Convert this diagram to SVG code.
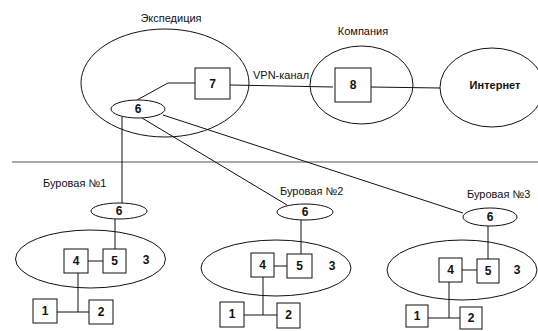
<svg xmlns="http://www.w3.org/2000/svg" width="538" height="331" viewBox="0 0 538 331">
<style>
.s{fill:none;stroke:#111;stroke-width:1}
.b{fill:#fff;stroke:#111;stroke-width:1}
.t{font-family:"Liberation Sans",Arial,sans-serif;font-size:11px;fill:#111}
.n{font-family:"Liberation Sans",Arial,sans-serif;font-size:12px;fill:#111;text-anchor:middle;font-weight:bold}
</style>
<rect width="538" height="331" fill="#fff"/>
<line x1="12" y1="162" x2="538" y2="162" stroke="#555" stroke-width="1"/>
<g id="connectors" class="s">
<polyline points="137,100 168,83 195,83"/>
<polyline points="230,85 333,87"/>
<polyline points="371,87 440,88"/>
<line x1="122" y1="117" x2="122" y2="203"/>
<line x1="142" y1="118" x2="287" y2="205"/>
<line x1="163" y1="115" x2="463" y2="213"/>
<line x1="115" y1="219" x2="115" y2="249"/>
<line x1="88" y1="261" x2="103" y2="261"/>
<line x1="78" y1="273" x2="78" y2="312"/>
<line x1="57" y1="312" x2="89" y2="312"/>
<line x1="301" y1="220" x2="301" y2="254"/>
<line x1="274" y1="266" x2="287" y2="266"/>
<line x1="263" y1="277" x2="263" y2="315"/>
<line x1="244" y1="315" x2="277" y2="315"/>
<line x1="488" y1="226" x2="488" y2="259"/>
<line x1="462" y1="270" x2="477" y2="270"/>
<line x1="449" y1="282" x2="449" y2="318"/>
<line x1="428" y1="318" x2="460" y2="318"/>
</g>
<g id="expedition">
<ellipse class="s" cx="165" cy="83" rx="84" ry="54"/>
<text class="t" x="171" y="22" text-anchor="middle">Экспедиция</text>
</g>
<g id="node7"><rect class="b" x="195" y="68" width="35" height="31"/><text class="n" x="212.5" y="88">7</text></g>
<g id="node6-exp"><ellipse class="b" cx="138" cy="109" rx="27" ry="9"/><text class="n" x="138" y="113">6</text></g>
<text class="t" x="253" y="79">VPN-канал</text>
<g id="company">
<ellipse class="s" cx="361.5" cy="85" rx="51.5" ry="39"/>
<text class="t" x="363" y="35" text-anchor="middle">Компания</text>
</g>
<g id="node8"><rect class="b" x="335" y="68" width="36" height="34"/><text class="n" x="353" y="89">8</text></g>
<g id="internet">
<ellipse class="s" cx="492" cy="87.5" rx="52" ry="39.5"/>
<text class="t" x="495" y="89" text-anchor="middle" font-weight="bold">Интернет</text>
</g>
<g id="drill1">
<text class="t" x="43" y="187">Буровая №1</text>
<ellipse class="b" cx="119" cy="211" rx="28" ry="8"/><text class="n" x="119" y="215">6</text>
<ellipse class="s" cx="90.5" cy="259" rx="75" ry="29"/>
<rect class="b" x="64" y="249" width="24" height="24"/><text class="n" x="76" y="265">4</text>
<rect class="b" x="103" y="249" width="23" height="24"/><text class="n" x="114.5" y="265">5</text>
<text class="n" x="146" y="264">3</text>
<rect class="b" x="33" y="299" width="24" height="24"/><text class="n" x="45" y="315">1</text>
<rect class="b" x="89" y="300" width="24" height="24"/><text class="n" x="101" y="316">2</text>
</g>
<g id="drill2">
<text class="t" x="280" y="195">Буровая №2</text>
<ellipse class="b" cx="305" cy="212" rx="28" ry="8"/><text class="n" x="305" y="216">6</text>
<ellipse class="s" cx="276" cy="268" rx="75" ry="28"/>
<rect class="b" x="251" y="253" width="23" height="24"/><text class="n" x="262.5" y="269">4</text>
<rect class="b" x="287" y="254" width="25" height="24"/><text class="n" x="299.5" y="270">5</text>
<text class="n" x="332" y="270">3</text>
<rect class="b" x="220" y="302" width="24" height="25"/><text class="n" x="232" y="318">1</text>
<rect class="b" x="277" y="303" width="23" height="25"/><text class="n" x="288.5" y="319">2</text>
</g>
<g id="drill3">
<text class="t" x="467" y="198">Буровая №3</text>
<ellipse class="b" cx="490" cy="217" rx="27" ry="9"/><text class="n" x="490" y="221">6</text>
<ellipse class="s" cx="462" cy="270" rx="75" ry="30"/>
<rect class="b" x="439" y="258" width="23" height="24"/><text class="n" x="450.5" y="274">4</text>
<rect class="b" x="477" y="259" width="22" height="24"/><text class="n" x="488" y="275">5</text>
<text class="n" x="517" y="274">3</text>
<rect class="b" x="406" y="305" width="22" height="22"/><text class="n" x="417" y="320">1</text>
<rect class="b" x="460" y="307" width="22" height="22"/><text class="n" x="471" y="322">2</text>
</g>
</svg>
